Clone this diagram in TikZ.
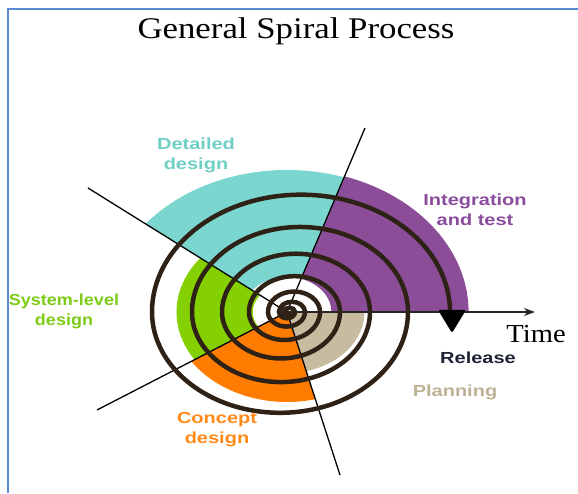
\documentclass[tikz,border=0pt]{standalone}
\usepackage{fontspec}
\setmainfont{Liberation Serif}
\newfontfamily\labfont{Liberation Sans}
\usetikzlibrary{arrows.meta}
\definecolor{cyanS}{HTML}{7AD6CE}
\definecolor{purpS}{HTML}{8C4D98}
\definecolor{greenS}{HTML}{84D000}
\definecolor{orangeS}{HTML}{FF7C00}
\definecolor{tanS}{HTML}{C7BCA0}
\definecolor{spir}{HTML}{2E2216}
\definecolor{frameC}{HTML}{5A8AD2}
\definecolor{cyanT}{HTML}{6FCFC5}
\definecolor{purpT}{HTML}{8A4C9C}
\definecolor{greenT}{HTML}{7CCB16}
\definecolor{orangeT}{HTML}{FF8A18}
\definecolor{tanT}{HTML}{BDB194}
\definecolor{relT}{HTML}{1E2433}
\begin{document}
\begin{tikzpicture}[x=1pt,y=1pt,
  lab/.style={font=\labfont\bfseries\fontsize{16}{20}\selectfont, align=center, xscale=1.25, transform shape, inner sep=0pt},
  divider/.style={line width=1.3pt, black},
  spiral/.style={line width=4.5pt, spir}]
\useasboundingbox (0,0) rectangle (578,493);
\fill[white] (0,0) rectangle (578,493);
% frame
\draw[frameC, line width=2pt] (8,0) -- (8,484) -- (578,484);
% title
\node[font=\fontsize{30}{36}\selectfont, xscale=1.16, transform shape] (title) at (296,462) {General Spiral Process};
% sectors
\coordinate (c) at (287,181);
\begin{scope}[shift={(287,181)}, xscale=1.27]
  \fill[purpS] (0:35) -- (0:143) arc[start angle=0,end angle=71.5,radius=143] -- (71.5:35) arc[start angle=71.5,end angle=0,radius=35] -- cycle;
  \fill[cyanS] (71.5:35) -- (71.5:142) arc[start angle=71.5,end angle=141.6,radius=142] -- (141.6:35) arc[start angle=141.6,end angle=71.5,radius=35] -- cycle;
  \fill[greenS] (141.6:27) -- (141.6:87) arc[start angle=141.6,end angle=213.2,radius=87] -- (213.2:27) arc[start angle=213.2,end angle=141.6,radius=27] -- cycle;
  \fill[orangeS] (0,0) -- (213.2:90) arc[start angle=213.2,end angle=284.4,radius=90] -- cycle;
  \fill[tanS] (0,0) -- (284.4:61) arc[start angle=284.4,end angle=360,radius=61] -- cycle;
\end{scope}
% dividers
\coordinate (ur) at (365,365);
\coordinate (ul) at (88,305);
\coordinate (ll) at (97,83);
\coordinate (lo) at (340,18);
\coordinate (tend) at (535,181);
\draw[divider] (c) -- (ur);
\draw[divider] (c) -- (ul);
\draw[divider] (c) -- (ll);
\draw[divider] (c) -- (lo);
\draw[line width=1.4pt, black!85, -{Stealth[length=11pt,width=8pt]}] (c) -- (tend);
% spiral
\coordinate (s0) at (290,181);
\draw[spiral] (s0)
 arc[start angle=0,end angle=-180,x radius=3,y radius=2.36]
 arc[start angle=180,end angle=0,x radius=5.5,y radius=4.33]
 arc[start angle=0,end angle=-180,x radius=8,y radius=6.3]
 arc[start angle=180,end angle=0,x radius=13,y radius=10.24]
 arc[start angle=0,end angle=-180,x radius=18.5,y radius=14.57]
 arc[start angle=180,end angle=0,x radius=26,y radius=20.47]
 arc[start angle=0,end angle=-180,x radius=35.5,y radius=27.95]
 arc[start angle=180,end angle=0,x radius=45.5,y radius=35.83]
 arc[start angle=0,end angle=-180,x radius=59,y radius=46.46]
 arc[start angle=180,end angle=0,x radius=74,y radius=58.27]
 arc[start angle=0,end angle=-180,x radius=89,y radius=70.08]
 arc[start angle=180,end angle=0,x radius=108,y radius=85.04]
 arc[start angle=0,end angle=-180,x radius=128,y radius=100.79]
 arc[start angle=180,end angle=0,x radius=149,y radius=117.32] coordinate (send);
\fill[black, rounded corners=2pt] (438,183) -- (466,183) -- (452,160) -- cycle;
% labels
\node[lab, text=cyanT] (det) at (196,338) {Detailed\\design};
\node[lab, text=purpT] (int) at (475,283) {Integration\\and test};
\node[lab, text=greenT, xscale=0.9] (sys) at (64,182) {System-level\\design};
\node[lab, text=orangeT] (con) at (217,63) {Concept\\design};
\node[lab, text=tanT] (pla) at (455,101) {Planning};
\node[lab, text=relT] (rel) at (478,135) {Release};
\node[font=\fontsize{26}{30}\selectfont, xscale=1.1, transform shape] (time) at (536,159) {Time};
\end{tikzpicture}
\end{document}
